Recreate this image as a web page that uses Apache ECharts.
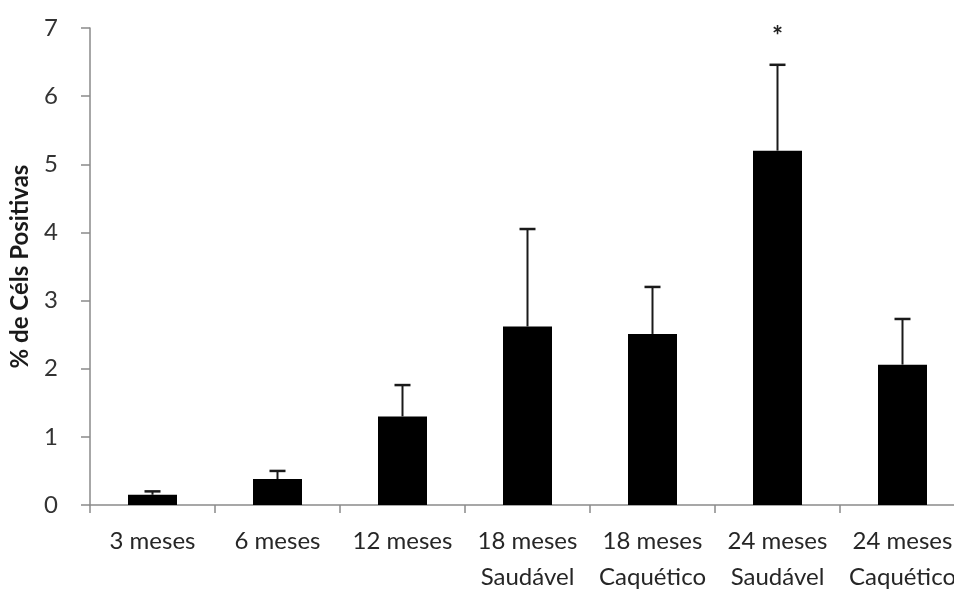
<!DOCTYPE html>
<html>
<head>
<meta charset="utf-8">
<script src="https://cdn.jsdelivr.net/npm/echarts@6/dist/echarts.min.js"></script>
<style>
html,body{margin:0;padding:0;background:#fff;}
#chart{width:954px;height:589px;}
</style>
</head>
<body>
<div id="chart"></div>
<script>
var categories = ['3 meses', '6 meses', '12 meses', '18 meses\nSaudável', '18 meses\nCaquético', '24 meses\nSaudável', '24 meses\nCaquético'];
var values = [0.15, 0.38, 1.30, 2.62, 2.51, 5.20, 2.06];
var errorUpper = [0.20, 0.50, 1.76, 4.05, 3.20, 6.46, 2.73];
var significance = ['', '', '', '', '', '*', ''];
var yTicks = [0, 1, 2, 3, 4, 5, 6, 7];
var yName = '% de Céls Positivas';

var chart = echarts.init(document.getElementById('chart'));
var errData = values.map(function (v, i) { return [i, v, errorUpper[i], significance[i]]; });

chart.setOption({
  animation: false,
  backgroundColor: '#ffffff',
  grid: { left: 90, top: 28, bottom: 84, right: -11, containLabel: false, outerBoundsMode: 'none' },
  xAxis: {
    type: 'category',
    data: categories,
    boundaryGap: true,
    axisLine: { show: true, lineStyle: { color: '#8a8a8a', width: 1.5 } },
    axisTick: { show: true, alignWithLabel: false, length: 8, lineStyle: { color: '#8a8a8a', width: 1.5 } },
    axisLabel: { interval: 0, color: '#262626', fontFamily: 'Lato', fontSize: 24, lineHeight: 36, margin: 18 }
  },
  yAxis: {
    type: 'value',
    min: yTicks[0],
    max: yTicks[yTicks.length - 1],
    interval: 1,
    name: yName,
    nameLocation: 'middle',
    nameGap: 58,
    nameRotate: 90,
    nameTextStyle: { fontFamily: 'Lato', fontWeight: 'bold', fontSize: 24, color: '#1a1a1a' },
    axisLine: { show: true, lineStyle: { color: '#8a8a8a', width: 1.5 } },
    axisTick: { show: true, inside: false, length: 9, lineStyle: { color: '#8a8a8a', width: 1.5 } },
    axisLabel: { color: '#333333', fontFamily: 'Lato', fontSize: 24, margin: 32 },
    splitLine: { show: false }
  },
  series: [
    {
      type: 'bar',
      data: values,
      barWidth: 49,
      itemStyle: { color: '#000000' },
      z: 2
    },
    {
      type: 'custom',
      data: errData,
      z: 3,
      renderItem: function (params, api) {
        var x = api.value(0);
        var base = api.coord([x, api.value(1)]);
        var top = api.coord([x, api.value(2)]);
        var capHalf = 8;
        var children = [
          { type: 'line', shape: { x1: base[0], y1: base[1], x2: top[0], y2: top[1] }, style: { stroke: '#1a1a1a', lineWidth: 2 } },
          { type: 'line', shape: { x1: top[0] - capHalf, y1: top[1], x2: top[0] + capHalf, y2: top[1] }, style: { stroke: '#1a1a1a', lineWidth: 2.5 } }
        ];
        var sig = significance[params.dataIndex];
        if (sig) {
          children.push({ type: 'text', style: { text: sig, x: top[0], y: top[1] - 28, align: 'center', verticalAlign: 'middle', fontSize: 26, fontWeight: 'bold', fontFamily: 'Lato', fill: '#222222' } });
        }
        return { type: 'group', children: children };
      }
    }
  ]
});
</script>
</body>
</html>
